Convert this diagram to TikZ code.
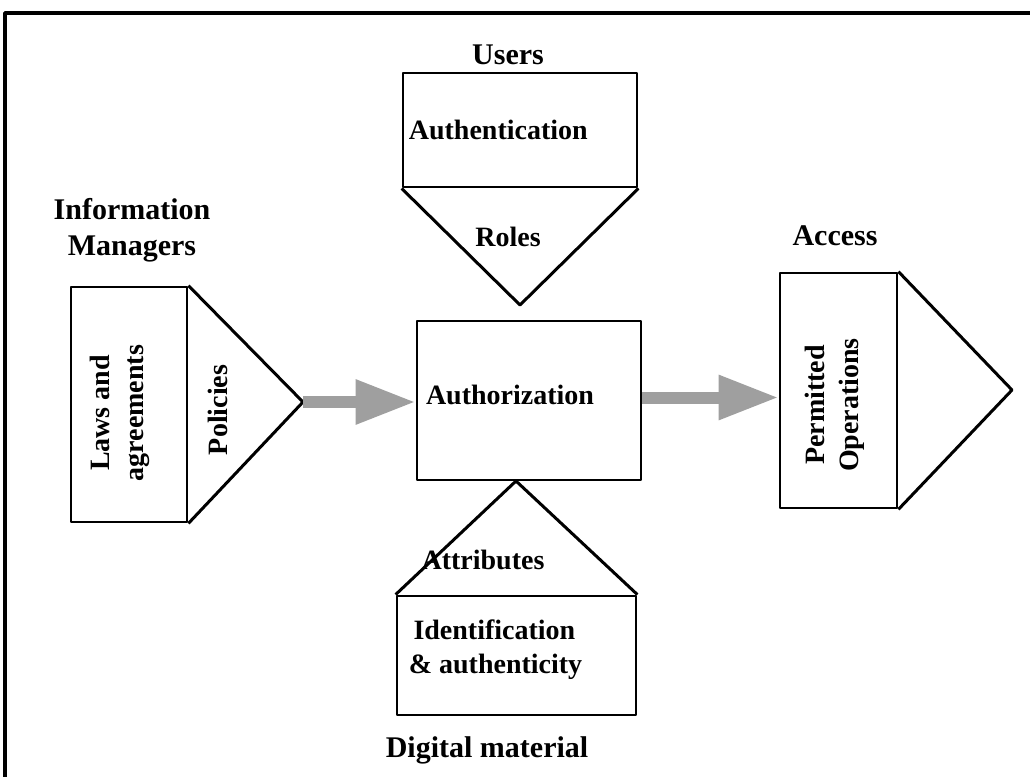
\documentclass[tikz,border=0pt]{standalone}
\usepackage{fontspec}
\setmainfont{Liberation Serif}
\usetikzlibrary{arrows.meta,calc}

\begin{document}
\begin{tikzpicture}[x=1pt,y=-1pt,line width=3pt,line join=round]
  \tikzstyle{box}=[draw,rectangle,inner sep=0pt,line width=2.8pt]
  \tikzstyle{head}=[font=\fontsize{30}{36}\selectfont\bfseries,align=center]
  \tikzstyle{txt}=[font=\fontsize{28}{34}\selectfont\bfseries,align=left]
  \tikzstyle{flow}=[draw=gray!75,line width=12pt,-{Triangle[length=60pt,width=42pt]}]

  \useasboundingbox (0,0) rectangle (1030,776);
  \draw[line width=3.5pt] (5,800) -- (5,13) -- (1040,13);

  % the five blocks
  \node[box,minimum width=116pt,minimum height=235pt] (L) at (129,404.5) {};
  \node[box,minimum width=224pt,minimum height=159pt] (C) at (529,400.5) {};
  \node[box,minimum width=234pt,minimum height=114pt] (U) at (520,130) {};
  \node[box,minimum width=239pt,minimum height=119pt] (D) at (516.5,655.5) {};
  \node[box,minimum width=117pt,minimum height=235pt] (R) at (838.5,390.5) {};

  \coordinate (Lt) at (303,402);
  \coordinate (Ut) at (520,305);
  \coordinate (Dt) at (516,481);
  \coordinate (Rt) at (1012,390);

  \draw (L.north east) -- (Lt) -- (L.south east);
  \draw (U.south west) -- (Ut) -- (U.south east);
  \draw (D.north west) -- (Dt) -- (D.north east);
  \draw (R.north east) -- (Rt) -- (R.south east);

  \draw[flow] (Lt) -- (Lt -| C.west);
  \draw[flow] ($(C.east)+(0,-3)$) -- ($(C.east -| R.west)+(0,-3)$);

  % labels
  \node[head] (im) at (132,230) {Information\\Managers};
  \node[head] (us) at (508,55) {Users};
  \node[head] (ac) at (835,236) {Access};
  \node[head] (dm) at (487,750) {Digital material};

  \node[txt,anchor=west] (au) at (404,130) {Authentication};
  \node[txt] (ro) at (508,237) {Roles};
  \node[txt] (az) at (510,395) {Authorization};
  \node[txt] (at) at (483,560) {Attributes};
  \node[txt,anchor=west] (id) at (404,650) {\,Identification\\\& authenticity};
  \node[txt,rotate=90,align=center] (la) at (120,413) {Laws and\\agreements};
  \node[txt,rotate=90] (po) at (218,410) {Policies};
  \node[txt,rotate=90,align=center] (pe) at (835,405) {Permitted\\Operations};
\end{tikzpicture}
\end{document}
